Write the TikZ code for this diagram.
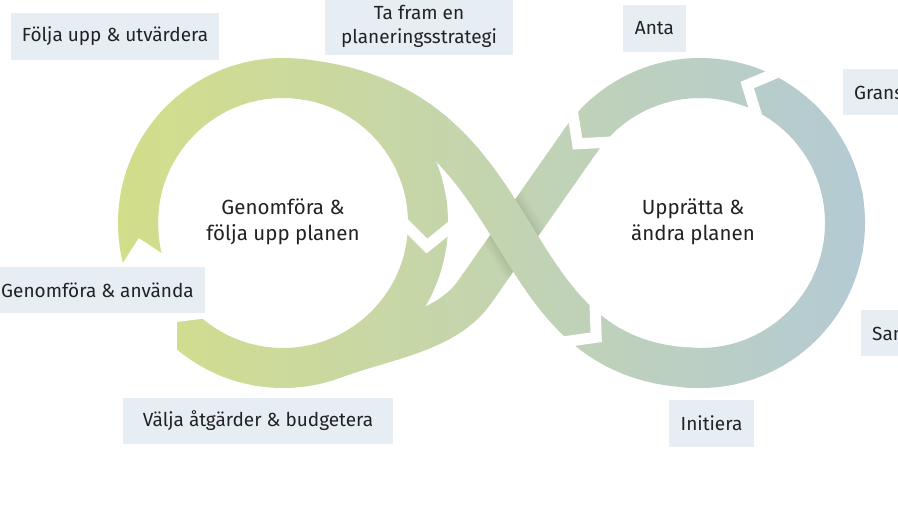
\documentclass[tikz,border=0pt]{standalone}
\usepackage{fontspec}
\setmainfont{Fira Sans}
\usetikzlibrary{calc}
\definecolor{gl}{RGB}{211,222,137}
\definecolor{gr}{RGB}{179,202,214}
\definecolor{lblfill}{RGB}{230,237,243}
\definecolor{txtc}{RGB}{34,34,38}
\tikzset{
  band/.style={line width=40pt},
  cutline/.style={draw=white, line width=11pt, miter limit=20},
  lab/.style={fill=lblfill, text=txtc, font=\fontsize{19}{24}\selectfont, inner xsep=11pt, inner ysep=0pt, minimum height=46.5pt, align=center},
  midtext/.style={text=txtc, font=\fontsize{20.5}{26}\selectfont, align=center, inner sep=0pt},
}
\newcommand\drawbands[1]{%
  \draw[band,#1] (L) circle[radius=145];
  \draw[band,#1] ($(R)+(96:145)$) arc[start angle=96, end angle=-147, radius=145];
  \draw[band,#1] (d2a) -- (d2q) .. controls (d2c1) and (d2c2) .. (d2b);
  \begin{scope}
    \clip (s1) -- (s2) -- (s3) -- (s4) -- cycle;
    \draw[line width=60pt,#1!98!black] (d1a) .. controls (d1c1) and (d1c2) .. (d1b);
    \draw[line width=55pt,#1!96!black] (d1a) .. controls (d1c1) and (d1c2) .. (d1b);
    \draw[line width=50pt,#1!94!black] (d1a) .. controls (d1c1) and (d1c2) .. (d1b);
    \draw[line width=46pt,#1!92!black] (d1a) .. controls (d1c1) and (d1c2) .. (d1b);
    \draw[line width=43pt,#1!90!black] (d1a) .. controls (d1c1) and (d1c2) .. (d1b);
  \end{scope}
  \draw[band,#1] (d1a) .. controls (d1c1) and (d1c2) .. (d1b);
}
\newcommand\chevcut[2]{%
  \coordinate (cap) at ($(#1)!18pt!(#2)$);
  \coordinate (ce1) at ($(#1)!20pt!90:(#2)$);
  \coordinate (ce2) at ($(#1)!20pt!-90:(#2)$);
  \draw[cutline] ($(cap)!1.45!(ce1)$) -- (cap) -- ($(cap)!1.45!(ce2)$);
}
\begin{document}
\begin{tikzpicture}[x=1pt,y=-1pt]
\useasboundingbox (0,0) rectangle (898,505);
\clip (0,0) rectangle (898,505);
\fill[white] (0,0) rectangle (898,505);
\coordinate (L) at (283,223);
\coordinate (R) at (700,223);
\coordinate (d1a) at ($(L)+(-85:145)$);
\coordinate (d1c1) at ($(d1a)+(5:250)$);
\coordinate (d1b) at ($(R)+(92:145)$);
\coordinate (d1c2) at ($(d1b)+(182:210)$);
\coordinate (d2a) at ($(R)+(-145:145)$);
\coordinate (d2q) at ($(d2a)+(125:185)$);
\coordinate (d2c1) at ($(d2q)+(125:50)$);
\coordinate (d2b) at ($(L)+(70:145)$);
\coordinate (d2c2) at ($(d2b)+(-20:60)$);
% straight part of the lower strand, used to keep the crossing shadow on it
\coordinate (s1) at ($(d2a)!19.5pt!90:(d2q)$);
\coordinate (s2) at ($(d2a)!19.5pt!-90:(d2q)$);
\coordinate (s3) at ($(d2q)!19.5pt!90:(d2a)$);
\coordinate (s4) at ($(d2q)!19.5pt!-90:(d2a)$);
% gradient bands in vertical strips
\foreach \i in {0,...,47} {
  \pgfmathsetmacro\xa{110+\i*16}
  \pgfmathsetmacro\xb{\xa+17}
  \pgfmathsetmacro\pc{(\i+0.5)/48*100}
  \colorlet{stripc}{gr!\pc!gl}
  \begin{scope}
    \clip (\xa,0) rectangle (\xb,505);
    \drawbands{stripc}
  \end{scope}
}
% chevron cuts
\coordinate (c1m) at ($(L)+(2:145)$);
\coordinate (c1f) at ($(L)+(4:145)$);
\chevcut{c1m}{c1f}
\path (d1a) .. controls (d1c1) and (d1c2) .. (d1b) coordinate[pos=0.76] (c2m) coordinate[pos=0.78] (c2f);
\chevcut{c2m}{c2f}
\coordinate (c3m) at ($(R)+(-64:145)$);
\coordinate (c3f) at ($(R)+(-66:145)$);
\chevcut{c3m}{c3f}
\coordinate (c4m) at ($(R)+(-140:145)$);
\coordinate (c4f) at ($(R)+(-142:145)$);
\chevcut{c4m}{c4f}
% gap on the left
\fill[white] ($(L)+(130:180)$) -- ($(L)+(130:165)$) -- ($(L)+(137:145)$) -- ($(L)+(130:125)$) -- ($(L)+(130:110)$)
  -- ($(L)+(166:110)$) -- ($(L)+(166:125)$) -- ($(L)+(174:145)$) -- ($(L)+(166:165)$) -- ($(L)+(166:180)$) -- cycle;
% labels
\node[lab, minimum width=206pt] (folja) at (115,36.5) {Följa upp \& utvärdera};
\node[lab, minimum width=188pt, minimum height=58pt] (tafram) at (419,26) {Ta fram en\\planeringsstrategi};
\node[lab, minimum width=63pt] (anta) at (654.5,28.5) {Anta};
\node[lab, anchor=west] (granska) at (843,92) {Granska};
\node[lab, anchor=west] (samrada) at (861,333) {Samråda};
\node[lab, minimum width=85pt] (initiera) at (711.5,423.5) {Initiera};
\node[lab, minimum width=270pt] (valja) at (258,421) {Välja åtgärder \& budgetera};
\node[lab, anchor=east] (genomfora) at (205,290) {Genomföra \& använda};
\node[midtext] (lefttxt) at (283,222) {Genomföra \&\\följa upp planen};
\node[midtext] (righttxt) at (693,222) {Upprätta \&\\ändra planen};
\end{tikzpicture}
\end{document}
